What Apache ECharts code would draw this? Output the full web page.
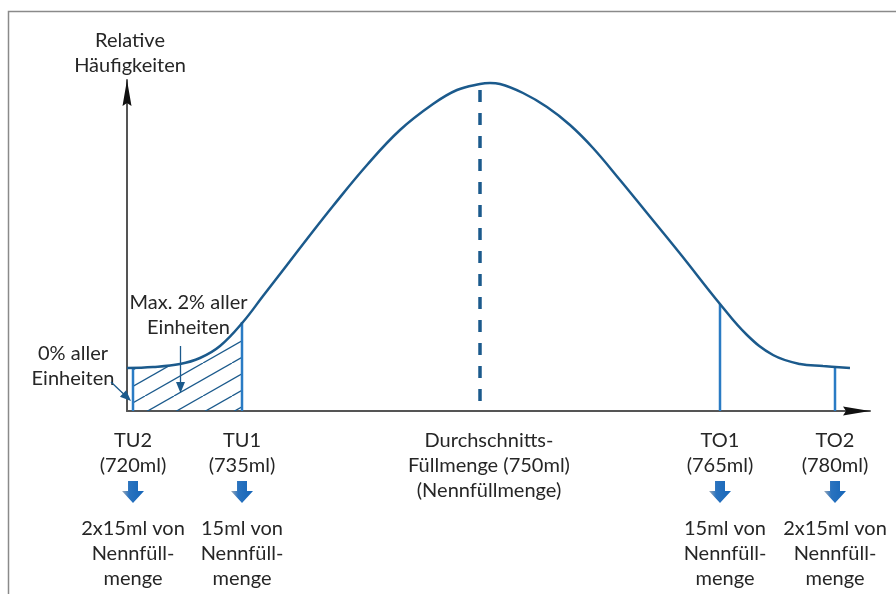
<!DOCTYPE html>
<html><head><meta charset="utf-8">
<script src="https://cdn.jsdelivr.net/npm/echarts@6/dist/echarts.min.js"></script>
<style>html,body{margin:0;padding:0;background:#fff}#c{width:896px;height:594px}</style>
</head><body><div id="c"></div>
<script>
// Position along the fill-quantity axis (diagram units) and relative frequency (diagram units)
const curveX = [0, 26, 53, 73, 93, 116, 136, 160, 180, 206, 240, 273, 306, 330, 353, 363, 373, 396, 420, 443, 466, 493, 520, 553, 593, 620, 646, 673, 696, 723];
const curveY = [43, 44, 47, 53, 65, 89, 115, 146, 172, 205, 246, 281, 307, 321, 327, 328, 327, 318, 304, 286, 263, 231, 198, 157.5, 107, 76, 56, 47, 45, 43];

const limitNames = ['TU2', 'TU1', 'TO1', 'TO2'];
const limitVolumes = ['(720ml)', '(735ml)', '(765ml)', '(780ml)'];
const limitPos = [6, 115, 593, 708];
const limitHeight = [44, 89, 107, 44];
const limitNotes = ['2x15ml von\nNennfüll-\nmenge', '15ml von\nNennfüll-\nmenge', '15ml von\nNennfüll-\nmenge', '2x15ml von\nNennfüll-\nmenge'];

const meanPos = 353;
const meanHeight = 321;
const meanLabel = 'Durchschnitts-\nFüllmenge (750ml)\n(Nennfüllmenge)';
const yAxisTitle = 'Relative\nHäufigkeiten';
const hatchNote = 'Max. 2% aller\nEinheiten';
const zeroNote = '0% aller\nEinheiten';

const CURVE = '#1b5a8c';
const LIMIT = '#2a7bc4';
const FONT = '20px Lato';
const TXT = '#262626';

function hatchPattern() {
  const c = document.createElement('canvas');
  c.width = 58; c.height = 33;
  const g = c.getContext('2d');
  g.strokeStyle = CURVE; g.lineWidth = 1.3;
  for (let k = -4; k <= 4; k++) {
    g.beginPath(); g.moveTo(k * 29, 33); g.lineTo(k * 29 + 58, 0); g.stroke();
  }
  return c;
}

const curveData = curveX.map((x, i) => [x, curveY[i]]);
const hatchData = [[limitPos[0], limitHeight[0]]]
  .concat(curveData.filter(p => p[0] > limitPos[0] && p[0] < limitPos[1]))
  .concat([[limitPos[1], limitHeight[1]]]);

const chart = echarts.init(document.getElementById('c'), null, {renderer: 'canvas'});

const series = [
  {
    type: 'line', data: hatchData, smooth: 0.4, symbol: 'none', z: 1,
    lineStyle: {width: 0}, areaStyle: {color: {image: hatchPattern(), repeat: 'repeat'}, opacity: 1},
    silent: true, animation: false
  },
  {
    type: 'line', data: curveData, smooth: 0.4, symbol: 'none', z: 4,
    lineStyle: {color: CURVE, width: 2.5}, silent: true, animation: false, clip: false
  },
  {
    type: 'line', data: [[meanPos, meanHeight], [meanPos, 0]], symbol: 'none', z: 3,
    lineStyle: {color: CURVE, width: 3.5, type: [12, 11]}, silent: true, animation: false
  }
];
limitPos.forEach((p, i) => {
  series.push({
    type: 'line', data: [[p, 0], [p, limitHeight[i]]], symbol: 'none', z: 3,
    lineStyle: {color: LIMIT, width: 2.5}, silent: true, animation: false
  });
});

chart.setOption({
  backgroundColor: '#fff',
  animation: false,
  grid: {left: 127, top: 80, width: 743, height: 331, containLabel: false},
  xAxis: {
    type: 'value', min: 0, max: 743,
    axisLine: {show: true, lineStyle: {color: '#555', width: 2}},
    axisTick: {show: false}, axisLabel: {show: false}, splitLine: {show: false}
  },
  yAxis: {
    type: 'value', min: 0, max: 331,
    axisLine: {show: true, lineStyle: {color: '#555', width: 2}},
    axisTick: {show: false}, axisLabel: {show: false}, splitLine: {show: false}
  },
  series: series
});

const toPx = (x, y) => chart.convertToPixel({gridIndex: 0}, [x, y]);
const graphics = [];
graphics.push({type: 'rect', silent: true, z: 0, shape: {x: 8.5, y: 11.5, width: 900, height: 600}, style: {fill: 'none', stroke: '#8a8a8a', lineWidth: 1.5}});

// axis arrowheads (black)
const origin = toPx(0, 0);
const yEnd = toPx(0, 331), xEnd = toPx(743, 0);
graphics.push({type: 'polygon', silent: true, z: 11, shape: {points: [[yEnd[0], yEnd[1]], [yEnd[0] - 4.5, yEnd[1] + 26], [yEnd[0], yEnd[1] + 23], [yEnd[0] + 4.5, yEnd[1] + 26]]}, style: {fill: '#111'}});
graphics.push({type: 'polygon', silent: true, z: 11, shape: {points: [[xEnd[0], xEnd[1]], [xEnd[0] - 27, xEnd[1] - 4.5], [xEnd[0] - 24, xEnd[1]], [xEnd[0] - 27, xEnd[1] + 4.5]]}, style: {fill: '#111'}});

function text(t, x, y) {
  graphics.push({type: 'text', silent: true, z: 10, style: {text: t, x: x, y: y, font: FONT, fill: TXT, align: 'center', verticalAlign: 'top', lineHeight: 25}});
}
text(yAxisTitle, origin[0] + 3, 28.5);

const arrowGrad = {type: 'linear', x: 0, y: 0, x2: 1, y2: 0, colorStops: [{offset: 0, color: '#9eaab8'}, {offset: 0.32, color: '#2a73bf'}, {offset: 1, color: '#1565b8'}]};
limitPos.forEach((p, i) => {
  const cx = toPx(p, 0)[0];
  text(limitNames[i] + '\n' + limitVolumes[i], cx, 428.5);
  graphics.push({type: 'polygon', silent: true, z: 10, x: cx, y: 481,
    shape: {points: [[-5, 0], [5, 0], [5, 10], [11, 10], [0, 22], [-11, 10], [-5, 10]]},
    style: {fill: arrowGrad}});
  text(limitNotes[i], cx + (i === 2 ? 5 : 0), 516);
});
const meanPx = toPx(meanPos, 0)[0];
text(meanLabel, meanPx + 9, 428);

// annotation: max 2 %
const tu1 = toPx(limitPos[1], 0)[0], tu2 = toPx(limitPos[0], 0)[0];
const hx = (tu1 + tu2) / 2 - 7;
text(hatchNote, hx + 8, 290);
graphics.push({type: 'line', silent: true, z: 10, shape: {x1: hx, y1: 346, x2: hx, y2: 384}, style: {stroke: CURVE, lineWidth: 1.3}});
graphics.push({type: 'polygon', silent: true, z: 10, shape: {points: [[hx, 393], [hx - 4.5, 382], [hx + 4.5, 382]]}, style: {fill: CURVE}});

// annotation: 0 %
text(zeroNote, 73, 341);
const tipX = tu2 - 2, tipY = 401;
const sx = 111, sy = 382;
const dx = tipX - sx, dy = tipY - sy, L = Math.hypot(dx, dy), ux = dx / L, uy = dy / L;
graphics.push({type: 'line', silent: true, z: 10, shape: {x1: sx, y1: sy, x2: tipX - ux * 8, y2: tipY - uy * 8}, style: {stroke: CURVE, lineWidth: 1.3}});
graphics.push({type: 'polygon', silent: true, z: 10, shape: {points: [[tipX, tipY], [tipX - ux * 11 - uy * 4.5, tipY - uy * 11 + ux * 4.5], [tipX - ux * 11 + uy * 4.5, tipY - uy * 11 - ux * 4.5]]}, style: {fill: CURVE}});

chart.setOption({graphic: graphics});
</script>
</body></html>
